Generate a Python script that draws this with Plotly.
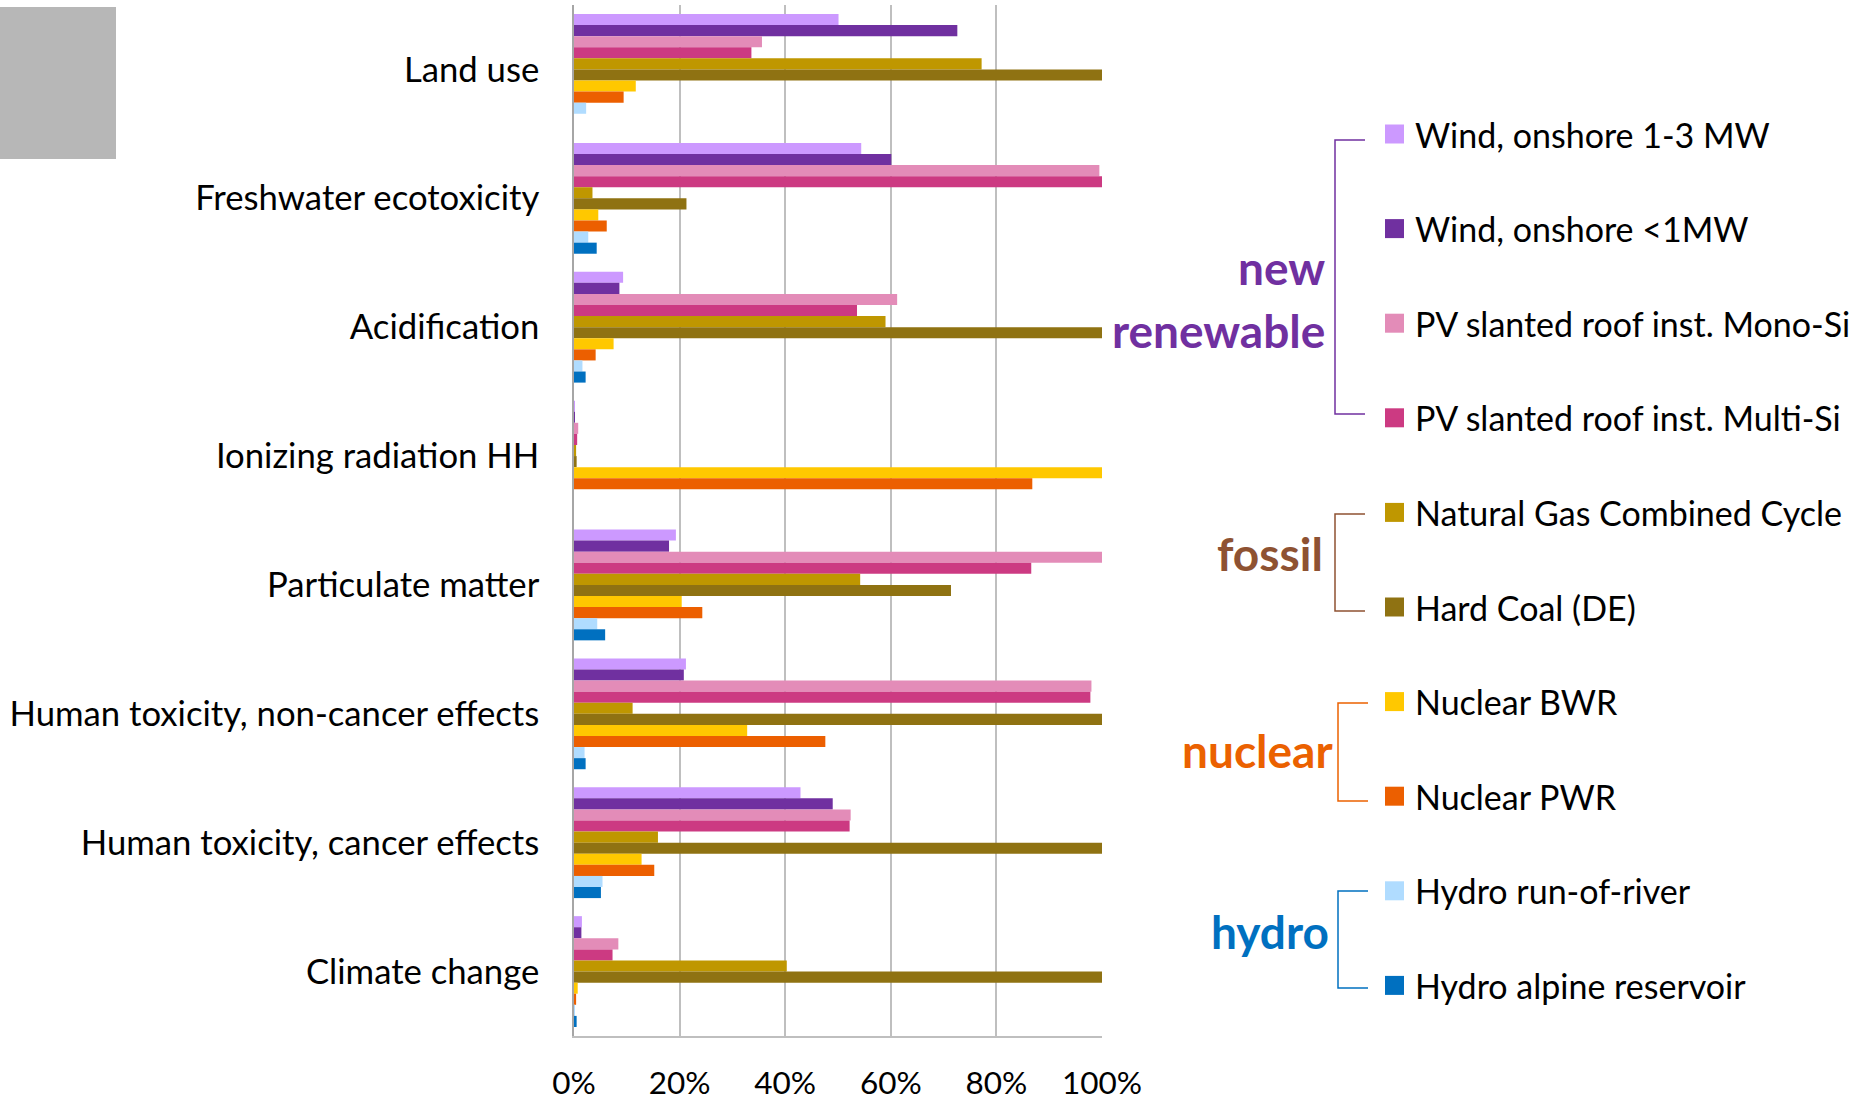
import plotly.graph_objects as go

# ---------------- data ----------------
categories = [
    "Land use",
    "Freshwater ecotoxicity",
    "Acidification",
    "Ionizing radiation HH",
    "Particulate matter",
    "Human toxicity, non-cancer effects",
    "Human toxicity, cancer effects",
    "Climate change",
]

series_names = [
    "Wind, onshore 1-3 MW",
    "Wind, onshore <1MW",
    "PV slanted roof inst. Mono-Si",
    "PV slanted roof inst. Multi-Si",
    "Natural Gas Combined Cycle",
    "Hard Coal (DE)",
    "Nuclear BWR",
    "Nuclear PWR",
    "Hydro run-of-river",
    "Hydro alpine reservoir",
]

# values in % (relative to max per impact category), per category top-to-bottom
wind_1_3     = [50.1, 54.4, 9.3, 0.1, 19.3, 21.2, 42.9, 1.5]
wind_lt1     = [72.6, 60.1, 8.6, 0.1, 18.0, 20.8, 49.0, 1.4]
pv_mono      = [35.6, 99.5, 61.2, 0.8, 100.0, 98.0, 52.4, 8.4]
pv_multi     = [33.6, 100.0, 53.6, 0.6, 86.6, 97.8, 52.2, 7.3]
ngcc         = [77.2, 3.5, 59.0, 0.4, 54.2, 11.1, 15.9, 40.3]
hard_coal    = [100.0, 21.3, 100.0, 0.5, 71.4, 100.0, 100.0, 100.0]
nuclear_bwr  = [11.7, 4.6, 7.5, 100.0, 20.4, 32.8, 12.8, 0.7]
nuclear_pwr  = [9.4, 6.2, 4.1, 86.8, 24.3, 47.6, 15.2, 0.4]
hydro_ror    = [2.3, 2.7, 1.6, 0.0, 4.4, 2.0, 5.4, 0.15]
hydro_alpine = [0.0, 4.3, 2.2, 0.0, 5.9, 2.2, 5.1, 0.5]

series_values = [wind_1_3, wind_lt1, pv_mono, pv_multi, ngcc, hard_coal,
                 nuclear_bwr, nuclear_pwr, hydro_ror, hydro_alpine]

series_colors = ["#CC99FF", "#7030A0", "#E38CB8", "#CC3A82", "#BF9700",
                 "#8F7212", "#FFC800", "#EC5F00", "#B0DCFF", "#0070C0"]

x_ticks = [0, 20, 40, 60, 80, 100]
x_tick_labels = ["0%", "20%", "40%", "60%", "80%", "100%"]

group_labels = [["new", "renewable"], ["fossil"], ["nuclear"], ["hydro"]]
group_colors = ["#7030A0", "#8E5232", "#EB6100", "#0070C0"]

# ---------------- layout geometry (pixels) ----------------
W, H = 1860, 1100
PX0, PX1 = 574, 1102      # plot area x
PY0, PY1 = 5, 1036        # plot area y (top, bottom)

def xp(px):
    return (px - PX0) / (PX1 - PX0)

def yp(py):
    return (PY1 - py) / (PY1 - PY0)

FONT = "Lato, Carlito, Calibri, 'Open Sans', sans-serif"

fig = go.Figure()
for name, vals, col in zip(series_names, series_values, series_colors):
    fig.add_trace(go.Bar(
        y=categories, x=vals, name=name, orientation="h",
        marker=dict(color=col, line=dict(width=0)),
        showlegend=False,
    ))

fig.update_layout(
    width=W, height=H,
    margin=dict(l=PX0, r=W - PX1, t=PY0, b=H - PY1, autoexpand=False),
    paper_bgcolor="white", plot_bgcolor="white",
    barmode="group", bargap=0.14, bargroupgap=0,
    font=dict(family=FONT, color="#000000"),
    xaxis=dict(
        range=[0, 100], tickmode="array", tickvals=x_ticks, ticktext=x_tick_labels,
        showgrid=True, gridcolor="#BFBFBF", gridwidth=1.5,
        zeroline=False, showline=True, linecolor="#BFBFBF", linewidth=1.5,
        ticks="outside", ticklen=18, tickcolor="rgba(0,0,0,0)",
        tickfont=dict(size=31.5, color="#000000"), automargin=False,
    ),
    yaxis=dict(
        autorange="reversed", showgrid=False, zeroline=False,
        showline=True, linecolor="#A6A6A6", linewidth=1.5,
        ticks="outside", ticklen=26, tickcolor="rgba(0,0,0,0)",
        tickfont=dict(size=34.7, color="#000000"), automargin=False,
    ),
)

shapes = []
annotations = []

# grey box top-left
shapes.append(dict(type="rect", xref="paper", yref="paper",
                   x0=xp(0), x1=xp(116), y0=yp(159), y1=yp(7),
                   fillcolor="#B7B7B7", line=dict(width=0), layer="above"))

# legend items
LEG_Y0, LEG_DY = 134, 94.6
MK_X0, MK_X1 = 1385, 1404
TXT_X = 1413
leg_y = [LEG_Y0 + i * LEG_DY for i in range(len(series_names))]
for name, col, cy in zip(series_names, series_colors, leg_y):
    shapes.append(dict(type="rect", xref="paper", yref="paper",
                       x0=xp(MK_X0), x1=xp(MK_X1), y0=yp(cy + 9.5), y1=yp(cy - 9.5),
                       fillcolor=col, line=dict(width=0)))
    annotations.append(dict(xref="paper", yref="paper", x=xp(TXT_X), y=yp(cy),
                            text=name, showarrow=False, xanchor="left", yanchor="middle",
                            font=dict(size=34, color="#000000", family=FONT)))

# group brackets: (x of vertical line, y top, y bottom) in pixels
brackets = [(1335, 140, 414), (1335, 514, 611), (1338, 703, 801), (1338, 891, 988)]
# group label lines: (right edge x, centre y) per line
label_pos = [[(1327, 267), (1327, 330)], [(1325, 553)], [(1335, 750)], [(1331, 931)]]
for (bx, ytop, ybot), col, lines, poss in zip(brackets, group_colors, group_labels, label_pos):
    bx2 = bx + 30
    shapes.append(dict(type="path", xref="paper", yref="paper",
                       path=f"M {xp(bx2)},{yp(ytop)} L {xp(bx)},{yp(ytop)} "
                            f"L {xp(bx)},{yp(ybot)} L {xp(bx2)},{yp(ybot)}",
                       line=dict(color=col, width=1.5)))
    for t, (lx, ly) in zip(lines, poss):
        annotations.append(dict(xref="paper", yref="paper", x=xp(lx), y=yp(ly),
                                text=f"<b>{t}</b>", showarrow=False,
                                xanchor="right", yanchor="middle",
                                font=dict(size=46, color=col, family=FONT)))

fig.update_layout(shapes=shapes, annotations=annotations)
fig.write_html("out.html", config={"displayModeBar": False},
               post_script="document.body.style.margin='0px';")
